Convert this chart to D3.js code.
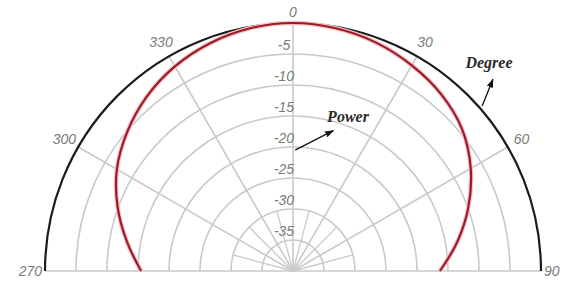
<!DOCTYPE html>
<html>
<head>
<meta charset="utf-8">
<script src="https://cdn.jsdelivr.net/npm/d3@7"></script>
<style>
  html, body { margin: 0; padding: 0; background: #fff; }
  svg { display: block; }
</style>
</head>
<body>
<div id="chart"></div>
<script>
// pattern: angle (deg, clockwise from top) -> power (dB)
const angleDeg = [-90, -80, -70, -60, -50, -40, -30, -20, -10, 0, 10, 20, 30, 40, 50, 60, 70, 80, 90];
const powerDb  = [-15.5, -12.8, -9.9, -7.2, -5.1, -3.3, -1.9, -0.9, -0.25, 0, -0.25, -0.8, -1.7, -2.8, -4.4, -6.9, -9.9, -13.1, -16.3];

const ringLevels = [-35, -30, -25, -20, -15, -10, -5];
const ringLabels = ["-35", "-30", "-25", "-20", "-15", "-10", "-5"];
const angleTicks = [-90, -60, -30, 0, 30, 60, 90];
const angleTickLabels = ["270", "300", "330", "0", "30", "60", "90"];
const minorTicks = [-75, -45, -15, 15, 45, 75];

// set the dimensions of the graph
const width = 561, height = 282;
const cx = 293, cy = 271, R = 248;

const svg = d3.select("#chart")
  .append("svg")
    .attr("width", width)
    .attr("height", height);

svg.append("rect").attr("width", width).attr("height", height).attr("fill", "#fff");

const g = svg.append("g").attr("transform", `translate(${cx},${cy})`);

const r = d3.scaleLinear().domain([-40, 0]).range([0, R]);
const rad = d => d * Math.PI / 180;
const px = (deg, rr) => [rr * Math.sin(rad(deg)), -rr * Math.cos(rad(deg))];

const halfArc = rr => { const p = d3.path(); p.arc(0, 0, rr, -Math.PI, 0); return p.toString(); };

const grid = "#c9c9c9";

// rings
g.selectAll(".ring")
  .data(ringLevels)
  .join("path")
    .attr("d", d => halfArc(r(d)))
    .attr("fill", "none")
    .attr("stroke", grid)
    .attr("stroke-width", 1.6);

// spokes
g.selectAll(".spoke")
  .data(angleTicks)
  .join("line")
    .attr("x1", 0).attr("y1", 0)
    .attr("x2", d => px(d, R)[0])
    .attr("y2", d => px(d, R)[1])
    .attr("stroke", grid)
    .attr("stroke-width", 1.6);

g.selectAll(".minor")
  .data(minorTicks)
  .join("line")
    .attr("x1", 0).attr("y1", 0)
    .attr("x2", d => px(d, r(-30))[0])
    .attr("y2", d => px(d, r(-30))[1])
    .attr("stroke", grid)
    .attr("stroke-width", 1.3);

// outer black arc
g.append("path")
  .attr("d", halfArc(r(0)))
  .attr("fill", "none")
  .attr("stroke", "#1c1c1c")
  .attr("stroke-width", 2.2);

// radial labels
g.selectAll(".rlab")
  .data(ringLevels)
  .join("text")
    .attr("x", -9)
    .attr("y", d => -r(d) - 4)
    .attr("text-anchor", "middle")
    .attr("font-family", "Liberation Sans, Arial, sans-serif")
    .attr("font-style", "italic")
    .attr("font-size", 14)
    .attr("fill", "#7a7a7a")
    .text((d, i) => ringLabels[i]);

// angle labels
g.selectAll(".alab")
  .data(angleTicks)
  .join("text")
    .attr("x", d => Math.abs(d) === 90 ? px(d, R + 3)[0] : px(d, 264)[0])
    .attr("y", d => Math.abs(d) === 90 ? 5 : px(d, d === 0 ? 259 : 264)[1] + 5)
    .attr("text-anchor", d => d === 90 ? "start" : d === -90 ? "end" : "middle")
    .attr("font-family", "Liberation Sans, Arial, sans-serif")
    .attr("font-style", "italic")
    .attr("font-size", 14)
    .attr("fill", "#7a7a7a")
    .text((d, i) => angleTickLabels[i]);

// power pattern
const pattern = angleDeg.map((a, i) => ({ a: a, v: powerDb[i] }));
const patternLine = d3.lineRadial()
  .angle(d => rad(d.a))
  .radius(d => r(d.v))
  .curve(d3.curveCatmullRom);
g.append("path")
  .datum(pattern)
  .attr("d", patternLine)
  .attr("fill", "none")
  .attr("stroke", "#f5c2c7")
  .attr("stroke-width", 4.5);
g.append("path")
  .datum(pattern)
  .attr("d", patternLine)
  .attr("fill", "none")
  .attr("stroke", "#9e1a25")
  .attr("stroke-width", 2.2);

// annotations
svg.append("defs").append("marker")
    .attr("id", "head")
    .attr("viewBox", "0 0 10 10")
    .attr("refX", 9).attr("refY", 5)
    .attr("markerWidth", 7).attr("markerHeight", 7)
    .attr("orient", "auto")
  .append("path")
    .attr("d", "M0,1.5L10,5L0,8.5Z")
    .attr("fill", "#111");

const arrow = (a0, r0, a1, r1) => {
  const p0 = px(a0, r0), p1 = px(a1, r1);
  g.append("line")
    .attr("x1", p0[0]).attr("y1", p0[1])
    .attr("x2", p1[0]).attr("y2", p1[1])
    .attr("stroke", "#111")
    .attr("stroke-width", 1.3)
    .attr("marker-end", "url(#head)");
};
arrow(1, r(-20.5), 16, 146);
arrow(48.9, 251, 46.2, 277);

const note = (text, x, y) => svg.append("text")
  .attr("x", x).attr("y", y)
  .attr("text-anchor", "middle")
  .attr("font-family", "Liberation Serif, Times New Roman, serif")
  .attr("font-style", "italic")
  .attr("font-weight", "bold")
  .attr("font-size", 16)
  .attr("fill", "#2a2a2a")
  .text(text);
note("Power", cx + 55, 122);
note("Degree", cx + 196, 68);
</script>
</body>
</html>
